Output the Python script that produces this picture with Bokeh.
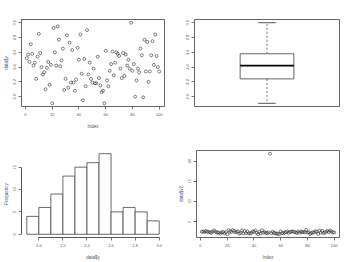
from bokeh.plotting import figure
from bokeh.layouts import column, row
from bokeh.models import FixedTicker, Range1d
from bokeh.embed import file_html
from bokeh.resources import INLINE
import numpy as np

# ---- data ----
y_values = [2.52, 2.57, 2.47, 2.71, 2.58, 2.42, 2.46, 2.24, 2.54, 2.85,
            2.59, 2.40, 2.30, 2.33, 2.10, 2.39, 2.47, 2.16, 2.43, 1.91,
            2.93, 2.60, 2.42, 2.95, 2.77, 2.41, 2.49, 2.65, 2.09, 2.24,
            2.83, 2.12, 2.73, 2.19, 2.63, 2.19, 2.08, 2.23, 2.66, 2.50,
            2.84, 2.31, 1.95, 2.51, 2.14, 2.90, 2.30, 2.46, 2.24, 2.19,
            2.38, 2.18, 2.18, 2.54, 2.25, 2.15, 2.06, 2.08, 1.91, 2.62,
            2.22, 2.14, 2.35, 2.44, 2.61, 2.29, 2.46, 2.60, 2.58, 2.55,
            2.38, 2.25, 2.59, 2.28, 2.57, 2.42, 2.50, 2.38, 3.00, 2.35,
            2.44, 2.00, 2.22, 2.38, 2.33, 2.65, 2.56, 1.99, 2.77, 2.34,
            2.74, 2.20, 2.34, 2.56, 2.75, 2.43, 2.84, 2.55, 2.40, 2.34]
index = list(range(1, len(y_values) + 1))

hist_edges = [1.9, 2.0, 2.1, 2.2, 2.3, 2.4, 2.5, 2.6, 2.7, 2.8, 2.9, 3.0]
hist_counts = [4, 6, 9, 13, 15, 16, 18, 5, 6, 5, 3]

outlier_index = 52
outlier_value = 21.8

y_ticks = [2.0, 2.2, 2.4, 2.6, 2.8, 3.0]
x_ticks = [0, 20, 40, 60, 80, 100]
hist_x_ticks = [2.0, 2.2, 2.4, 2.6, 2.8, 3.0]
hist_y_ticks = [0, 5, 10, 15]
y2_ticks = [5, 10, 15, 20]

y2_values = list(y_values)
y2_values[outlier_index - 1] = outlier_value

W, H = 175, 131
TXT = "#555555"
YLAB = "#4a5a8c"
LINE = "#555555"
FONT = "Liberation Sans"


def ext(lo, hi):
    d = (hi - lo) * 0.04
    return Range1d(lo - d, hi + d)


def make(xr, yr, boxed=True):
    p = figure(width=W, height=H, x_range=xr, y_range=yr,
               output_backend="svg", toolbar_location=None,
               min_border_left=19, min_border_right=11,
               min_border_top=19, min_border_bottom=25)
    p.grid.visible = False
    p.background_fill_color = "white"
    p.border_fill_color = "white"
    if boxed:
        p.outline_line_color = LINE
        p.outline_line_width = 0.9
    else:
        p.outline_line_color = None
    return p


def style_axes(p, xticks, yticks, xlab, ylab, xfmt=None, yfmt=None,
               xbounds=None, ybounds=None, show_x=True):
    for ax in p.yaxis:
        ax.ticker = FixedTicker(ticks=yticks)
        ax.major_label_orientation = "vertical"
        if ylab:
            ax.axis_label = ylab
        if yfmt:
            ax.major_label_overrides = {t: yfmt(t) for t in yticks}
        if ybounds:
            ax.bounds = ybounds
            ax.axis_line_color = LINE
        else:
            ax.axis_line_color = None
    axes = list(p.yaxis)
    if show_x:
        for ax in p.xaxis:
            ax.ticker = FixedTicker(ticks=xticks)
            ax.axis_label = xlab
            if xfmt:
                ax.major_label_overrides = {t: xfmt(t) for t in xticks}
            if xbounds:
                ax.bounds = xbounds
                ax.axis_line_color = LINE
            else:
                ax.axis_line_color = None
        axes += list(p.xaxis)
    else:
        p.xaxis.visible = False
    for ax in axes:
        ax.minor_tick_line_color = None
        ax.major_tick_in = 0
        ax.major_tick_out = 3
        ax.major_tick_line_color = LINE
        ax.major_tick_line_width = 0.8
        ax.major_label_text_font = FONT
        ax.major_label_text_font_size = "4px"
        ax.major_label_text_color = TXT
        ax.axis_label_text_font = FONT
        ax.axis_label_text_font_size = "4.5px"
        ax.axis_label_text_font_style = "normal"
    for ax in p.yaxis:
        ax.major_label_standoff = 2
        ax.axis_label_standoff = 2
        ax.axis_label_text_color = YLAB
    if show_x:
        for ax in p.xaxis:
            ax.major_label_standoff = 3
            ax.axis_label_standoff = 5
            ax.axis_label_text_color = TXT


fmt1 = lambda t: f"{t:.1f}"
fmt0 = lambda t: f"{int(t)}"

# ---- top-left scatter ----
p1 = make(ext(min(index), max(index)), ext(min(y_values), max(y_values)))
p1.scatter(index, y_values, marker="circle", size=3.0, fill_color=None,
           line_color="#333333", line_width=0.6)
style_axes(p1, x_ticks, y_ticks, "Index", "data$y", xfmt=fmt0, yfmt=fmt1)

# ---- top-right boxplot ----
arr = np.array(y_values)
q1, med, q3 = np.percentile(arr, [25, 50, 75])
iqr = q3 - q1
lo_w = arr[arr >= q1 - 1.5 * iqr].min()
hi_w = arr[arr <= q3 + 1.5 * iqr].max()
p2 = make(ext(0.5, 1.5), ext(min(y_values), max(y_values)))
center = 1.0
half = 0.2
cap = 0.065
p2.quad(left=[center - half], right=[center + half], bottom=[q1], top=[q3],
        fill_color=None, line_color=LINE, line_width=0.9)
p2.segment(x0=[center - half], x1=[center + half], y0=[med], y1=[med],
           line_color="black", line_width=1.6)
p2.segment(x0=[center, center], x1=[center, center], y0=[q3, q1],
           y1=[hi_w, lo_w], line_color=LINE, line_width=0.8, line_dash="2 2")
p2.segment(x0=[center - cap, center - cap], x1=[center + cap, center + cap],
           y0=[hi_w, lo_w], y1=[hi_w, lo_w], line_color="#777777", line_width=1.2)
style_axes(p2, [], y_ticks, "", "", yfmt=fmt1, show_x=False)

# ---- bottom-left histogram ----
p3 = make(ext(hist_edges[0], hist_edges[-1]), ext(0, max(hist_counts)), boxed=False)
p3.quad(left=hist_edges[:-1], right=hist_edges[1:], bottom=0, top=hist_counts,
        fill_color="white", line_color="#444444", line_width=0.8)
style_axes(p3, hist_x_ticks, hist_y_ticks, "data$y", "Frequency",
           xfmt=fmt1, yfmt=fmt0, xbounds=(2.0, 3.0), ybounds=(0, 15))

# ---- bottom-right scatter with outlier ----
p4 = make(ext(min(index), max(index)), ext(min(y2_values), max(y2_values)))
p4.scatter(index, y2_values, marker="circle", size=3.0, fill_color=None,
           line_color="#333333", line_width=0.6)
style_axes(p4, x_ticks, y2_ticks, "Index", "data$y2", xfmt=fmt0, yfmt=fmt0)

layout = column(row(p1, p2), row(p3, p4))
open("out.html", "w").write(file_html(layout, INLINE))
